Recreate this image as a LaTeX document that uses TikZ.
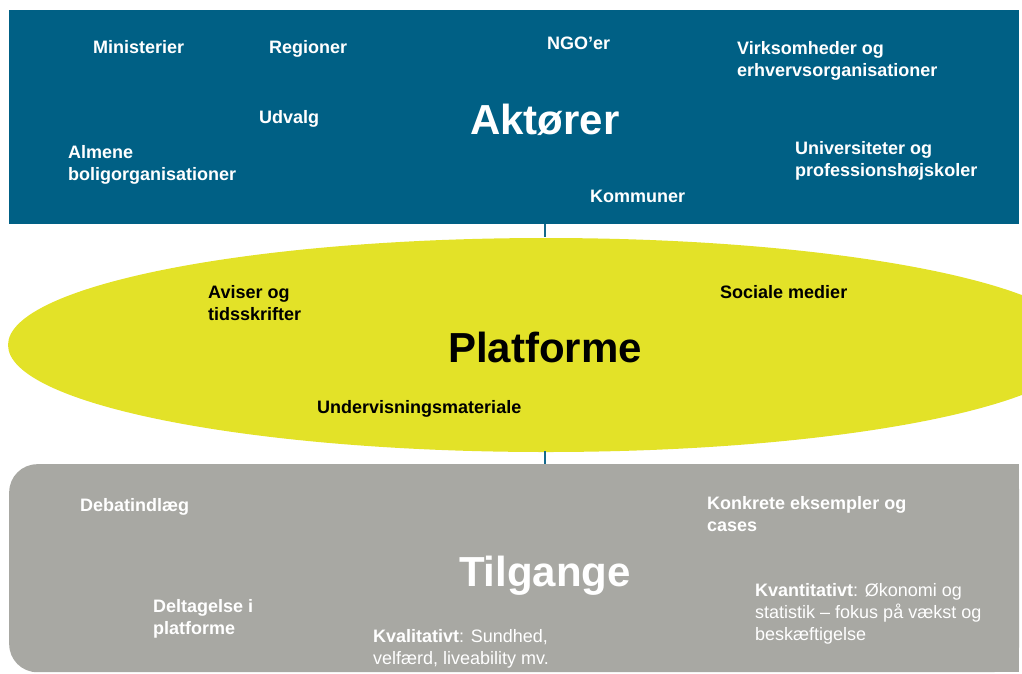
\documentclass[tikz,border=0pt]{standalone}
\usepackage{fontspec}
\setmainfont{Liberation Sans}
\usetikzlibrary{shapes.geometric}
\definecolor{aktblue}{RGB}{0,96,133}
\definecolor{platyellow}{RGB}{227,226,40}
\definecolor{tilggray}{RGB}{168,168,163}
\definecolor{linkblue}{RGB}{20,105,140}
\tikzset{
  item/.style={anchor=west, align=left, inner sep=0pt, font=\fontsize{18}{22}\selectfont\bfseries},
  wtext/.style={item, text=white},
  btext/.style={item, text=black},
  title/.style={inner sep=0pt, font=\fontsize{42}{46}\selectfont\bfseries},
  link/.style={draw=linkblue, line width=2pt},
}
\begin{document}
\begin{tikzpicture}[x=1pt,y=-1pt]
\useasboundingbox (0,0) rectangle (1022,673);
% shapes
\node[fill=aktblue, draw=none, inner sep=0pt, minimum width=1010pt, minimum height=214pt, anchor=north west] (akt) at (9,10) {};
\node[ellipse, fill=platyellow, draw=none, inner sep=0pt, minimum width=1076pt, minimum height=214pt] (plat) at (546,345) {};
\node[fill=tilggray, draw=none, rounded corners=28pt, inner sep=0pt, minimum width=1010pt, minimum height=208pt, anchor=north west] (tilg) at (9,464) {};
\fill[tilggray] (500,464) rectangle (1019,672);
% connectors
\draw[link] (akt.south -| 545,0) -- (545,237);
\draw[link] (545,451) -- (tilg.north -| 545,0);
% Aktører
\node[title, text=white] (tAkt) at (545,120) {Aktører};
\node[wtext] (min) at (93,47) {Ministerier};
\node[wtext] (reg) at (269,49) {Regioner};
\node[wtext] (ngo) at (547,43) {NGO’er};
\node[wtext] (virk) at (737,61) {Virksomheder og\\erhvervsorganisationer};
\node[wtext] (udv) at (259,119) {Udvalg};
\node[wtext] (alm) at (68,165) {Almene\\boligorganisationer};
\node[wtext] (uni) at (795,161) {Universiteter og\\professionshøjskoler};
\node[wtext] (kom) at (590,196) {Kommuner};
% Platforme
\node[title, text=black] (tPlat) at (545,347) {Platforme};
\node[btext] (avi) at (208,303) {Aviser og\\tidsskrifter};
\node[btext] (soc) at (720,292) {Sociale medier};
\node[btext] (und) at (317,409) {Undervisningsmateriale};
% Tilgange
\node[title, text=white] (tTilg) at (545,576) {Tilgange};
\node[wtext] (deb) at (80,507) {Debatindlæg};
\node[wtext] (konk) at (707,514) {Konkrete eksempler og\\cases};
\node[wtext] (delt) at (153,619) {Deltagelse i\\platforme};
\node[wtext, font=\fontsize{18}{22}\selectfont] (kval) at (373,649) {\textbf{Kvalitativt}: Sundhed,\\velfærd, liveability mv.};
\node[wtext, font=\fontsize{18}{22}\selectfont] (kvan) at (755,614) {\textbf{Kvantitativt}: Økonomi og\\statistik – fokus på vækst og\\beskæftigelse};
\end{tikzpicture}
\end{document}
